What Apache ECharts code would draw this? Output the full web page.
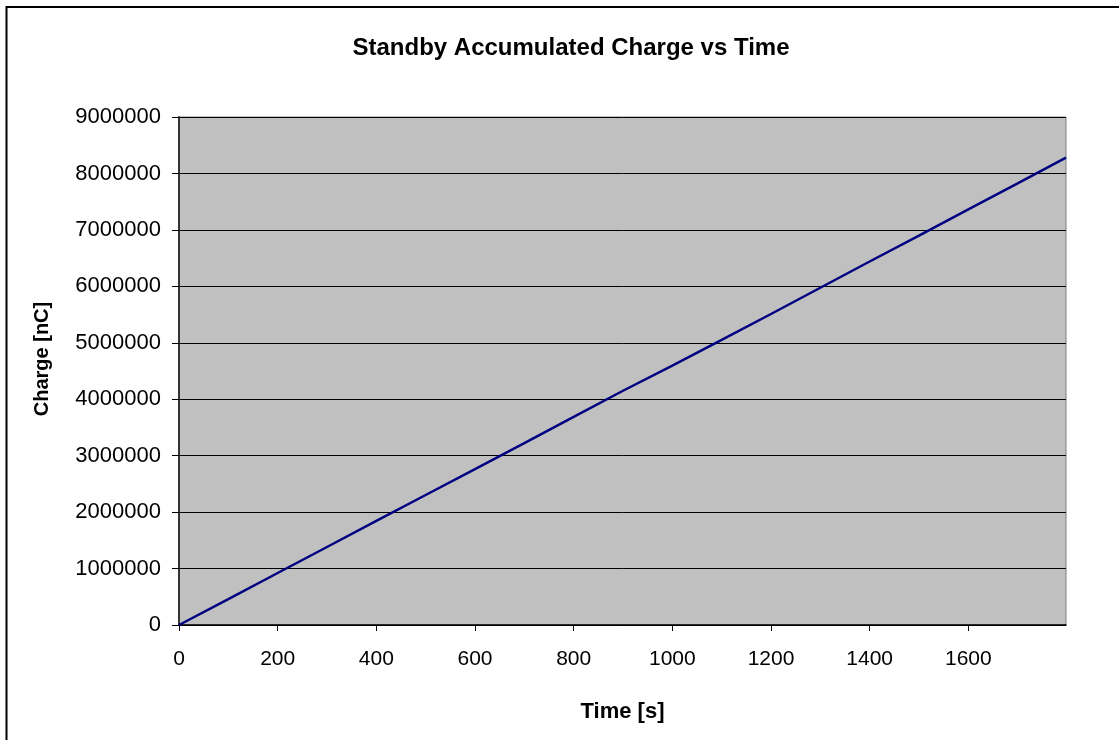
<!DOCTYPE html>
<html>
<head>
<meta charset="utf-8">
<script src="https://cdn.jsdelivr.net/npm/echarts@6/dist/echarts.min.js"></script>
<style>
html,body{margin:0;padding:0;background:#fff;}
#chart{width:1119px;height:740px;}
</style>
</head>
<body>
<div id="chart"></div>
<script>
const timeValues = [0,100,200,300,400,500,600,700,800,900,1000,1100,1200,1300,1400,1500,1600,1700,1798];
const chargeValues = [0,460000,921000,1382000,1843000,2303000,2762000,3222000,3688000,4150000,4595000,5050000,5510000,5975000,6440000,6900000,7365000,7825000,8280000];
const xTicks = [0,200,400,600,800,1000,1200,1400,1600];
const yTicks = [0,1000000,2000000,3000000,4000000,5000000,6000000,7000000,8000000,9000000];

const chart = echarts.init(document.getElementById('chart'));
const font = 'Liberation Sans, Arial, sans-serif';
chart.setOption({
  backgroundColor: '#ffffff',
  animation: false,
  title: {
    text: 'Standby Accumulated Charge vs Time',
    left: 566, top: 31, textAlign: 'center',
    textStyle: {fontFamily: font, fontSize: 24, fontWeight: 'bold', color: '#000'}
  },
  graphic: [{
    type: 'rect', shape: {x: 6.5, y: 7, width: 1300, height: 900},
    style: {fill: 'none', stroke: '#000', lineWidth: 2}, silent: true, z: 100
  }],
  grid: {
    left: 179, right: 53, top: 117, bottom: 115,
    show: true, backgroundColor: '#C0C0C0', borderColor: '#808080', borderWidth: 1
  },
  xAxis: {
    type: 'value', min: 0, max: 1798, interval: 200,
    name: 'Time [s]', nameLocation: 'middle', nameGap: 76,
    nameTextStyle: {fontFamily: font, fontSize: 22, fontWeight: 'bold', color: '#000'},
    axisLine: {lineStyle: {color: '#000', width: 1.5}},
    axisTick: {inside: false, length: 6, lineStyle: {color: '#000'}},
    axisLabel: {fontFamily: font, fontSize: 21, color: '#000', margin: 24, showMaxLabel: false,
      formatter: v => xTicks.includes(v) ? String(v) : ''},
    splitLine: {show: false}
  },
  yAxis: {
    type: 'value', min: 0, max: 9000000, interval: 1000000,
    name: 'Charge [nC]', nameLocation: 'middle', nameGap: 127, nameRotate: 90,
    nameTextStyle: {fontFamily: font, fontSize: 20, fontWeight: 'bold', color: '#000', padding: [0, 0, 0, 24]},
    axisLine: {show: true, lineStyle: {color: '#333', width: 2}},
    axisTick: {show: true, inside: false, length: 7, lineStyle: {color: '#000'}},
    axisLabel: {fontFamily: font, fontSize: 22, color: '#000', margin: 18,
      formatter: v => yTicks.includes(v) ? String(v) : ''},
    splitLine: {show: true, lineStyle: {color: '#000', width: 1}}
  },
  series: [{
    type: 'line',
    data: timeValues.map((t, i) => [t, chargeValues[i]]),
    showSymbol: false, symbol: 'none',
    lineStyle: {color: '#000080', width: 2.5},
    clip: true
  }]
});
</script>
</body>
</html>
